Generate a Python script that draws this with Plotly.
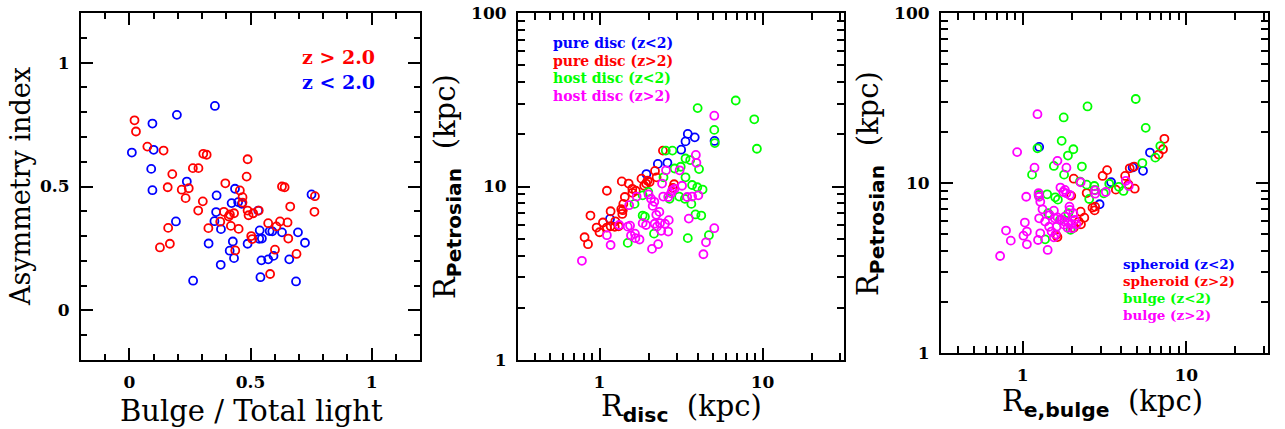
import plotly.graph_objects as go

# ---------------- Panel 1: Asymmetry index vs B/T ----------------
bt_hi = [0.021,0.027,0.074,0.141,0.158,0.177,0.160,0.126,0.167,0.216,0.232,0.245,0.262,0.285,0.305,0.319,0.303,0.284,0.326,0.396,
         0.375,0.390,0.410,0.415,0.432,0.419,0.451,0.437,0.456,0.467,0.467,0.488,0.484,0.488,0.492,0.511,0.534,0.503,0.507,0.573,
         0.607,0.622,0.630,0.641,0.653,0.664,0.656,0.601,0.690,0.581,0.766,0.764]
asym_hi = [0.767,0.722,0.661,0.645,0.497,0.550,0.333,0.254,0.269,0.487,0.453,0.493,0.574,0.574,0.632,0.628,0.440,0.403,0.332,0.513,
           0.358,0.398,0.379,0.387,0.392,0.341,0.329,0.242,0.484,0.457,0.435,0.610,0.540,0.403,0.384,0.392,0.403,0.300,0.288,0.352,
           0.339,0.359,0.500,0.497,0.355,0.419,0.290,0.245,0.228,0.147,0.461,0.398]
bt_lo = [0.010,0.095,0.100,0.090,0.095,0.196,0.192,0.237,0.263,0.353,0.360,0.358,0.351,0.378,0.327,0.377,0.436,0.422,0.449,0.464,
         0.427,0.414,0.432,0.488,0.532,0.538,0.536,0.547,0.545,0.573,0.595,0.541,0.579,0.590,0.630,0.696,0.725,0.660,0.688,0.752]
asym_lo = [0.637,0.754,0.648,0.571,0.485,0.789,0.359,0.520,0.120,0.825,0.464,0.397,0.360,0.328,0.270,0.184,0.491,0.433,0.437,0.430,
           0.278,0.241,0.211,0.269,0.403,0.323,0.289,0.290,0.202,0.206,0.220,0.134,0.320,0.319,0.315,0.315,0.273,0.206,0.117,0.468]

# ---------------- Panel 2: R_Petrosian vs R_disc ----------------
pure_lo_rd = [3.48,3.37,3.84,5.08,3.17,2.61,2.28,1.94,1.16]
pure_lo_rp = [20.1,18.2,19.2,18.3,16.3,13.7,13.5,11.8,6.5]
pure_hi_rd = [2.45,2.19,2.24,1.81,2.03,1.97,1.88,1.93,1.37,1.51,1.59,1.67,1.11,1.43,1.40,1.59,2.87,2.82,1.39,1.36,1.38,1.17,0.88,
              1.05,1.11,1.17,1.25,1.31,1.24,0.96,1.00,0.81,0.85]
pure_hi_rp = [16.1,12.3,11.3,11.1,10.6,10.8,10.1,10.4,10.7,10.4,9.7,9.45,9.45,8.7,7.94,9.2,10.3,9.8,7.3,7.4,6.95,7.2,6.8,
              6.2,5.8,5.9,6.3,5.9,5.85,5.8,5.45,5.1,4.65]
host_lo_rd = [6.85,4.00,8.90,5.06,5.10,9.24,2.55,2.80,3.37,3.60,4.08,2.89,3.15,3.37,2.47,3.70,3.98,4.29,3.08,3.34,3.66,2.69,1.99,
              1.84,1.90,1.84,3.88,4.21,3.48,4.69,1.49,2.16,1.64]
host_lo_rp = [31.3,28.3,24.4,21.2,17.8,16.5,16.1,16.1,14.5,14.2,12.6,12.7,13.0,11.3,11.3,10.2,9.9,9.6,8.75,8.49,7.94,8.5,9.3,
              8.9,6.7,6.8,6.9,6.8,5.04,5.24,4.73,5.35,7.94]
host_hi_rd = [5.06,3.90,3.93,2.56,3.10,2.42,3.21,2.79,2.89,2.75,2.64,2.46,3.70,3.45,4.04,1.69,2.00,2.07,2.17,2.12,2.33,2.23,2.18,
              2.35,2.39,2.66,2.64,2.52,2.25,1.84,1.93,1.52,1.32,1.49,1.54,1.56,1.65,1.66,1.76,3.53,5.06,4.50,4.34,2.10,2.29,
              1.11,1.17,0.78]
host_hi_rp = [25.6,15.2,13.7,12.4,12.4,10.4,10.1,9.5,9.7,9.15,8.7,8.75,8.75,8.7,8.9,8.75,9.0,8.5,8.16,7.73,7.14,6.87,6.1,
              6.15,5.55,6.4,5.5,6.1,5.87,6.15,6.0,7.8,6.0,5.87,5.95,5.22,5.35,5.04,4.95,6.53,5.75,4.77,4.07,4.37,4.65,
              5.24,4.6,3.73]

# ---------------- Panel 3: R_Petrosian vs R_e,bulge ----------------
sph_lo_re = [1.26,6.00,4.70,5.44,3.47,2.95]
sph_lo_rp = [16.3,15.1,12.35,11.8,10.1,7.5]
sph_hi_re = [7.35,7.21,6.78,3.28,3.08,4.51,4.80,4.23,4.84,4.43,3.71,2.05,2.46,1.98,2.67,2.77,2.75,2.26,2.38,2.20,2.27,2.05,1.60,1.63]
sph_hi_rp = [18.2,15.8,14.7,11.9,11.0,12.2,12.5,11.0,9.26,9.8,9.14,10.6,8.73,8.4,7.16,7.26,6.9,6.78,6.25,5.93,5.71,5.45,4.94,4.81]
blg_lo_re = [4.91,2.49,1.78,5.65,1.73,2.04,1.89,1.23,2.30,1.55,1.79,1.14,6.94,6.47,5.39,1.25,1.41,1.58,1.64,2.74,2.75,2.55,3.13,
             3.38,3.87,4.13,1.43,1.90,1.69,1.96,1.37,2.46,2.24]
blg_lo_rp = [31.2,28.2,24.3,21.1,17.7,15.8,14.5,16.0,12.5,12.6,11.2,11.2,16.5,14.1,13.1,8.5,8.58,8.24,7.98,9.6,9.1,8.05,8.7,
             9.9,9.5,8.98,6.64,6.64,6.06,5.31,4.66,9.78,10.2]
blg_hi_re = [1.23,0.924,1.63,1.18,1.85,2.26,1.70,1.81,1.77,1.85,1.94,2.77,2.77,3.22,4.27,4.45,1.05,1.26,1.28,1.32,1.55,1.57,1.46,
             1.26,1.37,1.81,1.93,1.94,1.80,1.90,2.08,2.13,1.99,1.03,1.06,1.01,0.79,0.845,1.06,1.24,1.28,1.42,0.727,1.45,
             1.50,1.61,1.59,1.55,1.72,1.63,2.04,2.01,1.88,1.79,1.25]
blg_hi_rp = [25.4,15.2,13.5,12.3,12.3,10.1,9.4,9.1,8.85,8.69,8.5,9.06,8.65,8.85,10.3,9.6,8.3,8.3,7.76,7.0,6.87,6.2,6.48,
             6.2,5.93,6.34,7.26,6.94,5.93,5.85,6.06,5.71,5.74,5.85,5.18,4.9,5.25,4.58,4.36,4.62,5.06,4.04,3.72,5.53,
             5.18,5.53,4.99,4.79,6.1,6.28,6.64,5.41,5.46,5.69,8.73]

RED, BLUE, GREEN, MAG = "#ff0000", "#0000ff", "#00ff00", "#ff00ff"
W, H = 1285, 429

fig = go.Figure()

def add(x, y, color, xa, ya):
    fig.add_trace(go.Scatter(
        x=x, y=y, mode="markers", xaxis=xa, yaxis=ya, showlegend=False,
        marker=dict(symbol="circle-open", size=8, color=color, line=dict(width=1.8, color=color)),
        hoverinfo="skip"))

add(bt_lo, asym_lo, BLUE, "x", "y")
add(bt_hi, asym_hi, RED, "x", "y")

add(pure_lo_rd, pure_lo_rp, BLUE, "x2", "y2")
add(pure_hi_rd, pure_hi_rp, RED, "x2", "y2")
add(host_lo_rd, host_lo_rp, GREEN, "x2", "y2")
add(host_hi_rd, host_hi_rp, MAG, "x2", "y2")

add(sph_lo_re, sph_lo_rp, BLUE, "x3", "y3")
add(sph_hi_re, sph_hi_rp, RED, "x3", "y3")
add(blg_lo_re, blg_lo_rp, GREEN, "x3", "y3")
add(blg_hi_re, blg_hi_rp, MAG, "x3", "y3")

tickfont = dict(family="DejaVu Serif", size=17, color="black", weight="bold")

def lin_axis(domain, anchor):
    return dict(domain=domain, anchor=anchor, range=[-0.2, 1.2], tickmode="array",
                tickvals=[0, 0.5, 1], ticktext=["0", "0.5", "1"],
                ticks="inside", ticklen=12, tickwidth=2, tickcolor="black",
                minor=dict(tickmode="array", tickvals=[-0.1, 0.1, 0.2, 0.3, 0.4, 0.6, 0.7, 0.8, 0.9, 1.1],
                           ticks="inside", ticklen=6, tickwidth=1.5, tickcolor="black"),
                showline=True, linewidth=2, linecolor="black", mirror="ticks",
                showgrid=False, zeroline=False, tickfont=tickfont, ticklabelstandoff=6,
                automargin=False)

def log_axis(domain, anchor, rng, minors):
    return dict(domain=domain, anchor=anchor, type="log", range=rng, tickmode="array",
                tickvals=[1, 10, 100], ticktext=["1", "10", "100"],
                ticks="inside", ticklen=12, tickwidth=2, tickcolor="black",
                minor=dict(tickmode="array", tickvals=minors,
                           ticks="inside", ticklen=7, tickwidth=1.5, tickcolor="black"),
                showline=True, linewidth=2, linecolor="black", mirror="ticks",
                showgrid=False, zeroline=False, tickfont=tickfont, ticklabelstandoff=6,
                automargin=False)

minor_x = [0.4, 0.5, 0.6, 0.7, 0.8, 0.9, 2, 3, 4, 5, 6, 7, 8, 9, 20, 30]
minor_y = [2, 3, 4, 5, 6, 7, 8, 9, 20, 30, 40, 50, 60, 70, 80, 90]

d1x = [81 / W, 420 / W]
d2x = [518 / W, 844 / W]
d3x = [941 / W, 1268 / W]
dy12 = [1 - 360 / H, 1 - 13 / H]
dy3 = [1 - 353 / H, 1 - 13 / H]

fig.update_layout(
    width=W, height=H, margin=dict(l=0, r=0, t=0, b=0, autoexpand=False),
    paper_bgcolor="white", plot_bgcolor="white",
    xaxis=lin_axis(d1x, "y"), yaxis=lin_axis(dy12, "x"),
    xaxis2=log_axis(d2x, "y2", [-0.5, 1.5], minor_x), yaxis2=log_axis(dy12, "x2", [0, 2], minor_y),
    xaxis3=log_axis(d3x, "y3", [-0.5, 1.5], minor_x), yaxis3=log_axis(dy3, "x3", [0, 2], minor_y),
)

SERIF = "DejaVu Serif"
SUB = '<sub><span style="font-family:DejaVu Sans;font-weight:bold">%s</span></sub>'
NB = "\u00a0"

def ann(text, x, y, size, color="black", angle=0, xanchor="center", family=SERIF, bold=False):
    fig.add_annotation(text=text, x=x / W, y=1 - y / H, xref="paper", yref="paper",
                       showarrow=False, textangle=angle, xanchor=xanchor, yanchor="middle",
                       font=dict(family=family, size=size, color=color, weight="bold" if bold else "normal"))

# axis titles
ann("Bulge" + NB + "/" + NB + "Total" + NB + "light", 251, 411, 29)
ann("Asymmetry" + NB + "index", 20, 187, 27, angle=-90)
ann("R" + SUB % "disc" + NB + NB + "(kpc)", 681, 408, 29)
ann("R" + SUB % "Petrosian" + NB + NB + "(kpc)", 447, 187, 29, angle=-90)
ann("R" + SUB % "e,bulge" + NB + NB + "(kpc)", 1102, 403, 29)
ann("R" + SUB % "Petrosian" + NB + NB + "(kpc)", 870, 184, 29, angle=-90)

# in-plot legends
LEG = "DejaVu Serif"
ann("z" + NB + ">" + NB + "2.0", 300, 57, 19, RED, xanchor="left", family=LEG, bold=True)
ann("z" + NB + "<" + NB + "2.0", 300, 82, 19, BLUE, xanchor="left", family=LEG, bold=True)

for i, (t, c) in enumerate([("pure disc (z<2)", BLUE), ("pure disc (z>2)", RED),
                            ("host disc (z<2)", GREEN), ("host disc (z>2)", MAG)]):
    ann(t.replace(" ", NB), 551, 43 + i * 17.6, 14, c, xanchor="left", family=LEG, bold=True)

for i, (t, c) in enumerate([("spheroid (z<2)", BLUE), ("spheroid (z>2)", RED),
                            ("bulge (z<2)", GREEN), ("bulge (z>2)", MAG)]):
    ann(t.replace(" ", NB), 1121, 264 + i * 17, 13.5, c, xanchor="left", family=LEG, bold=True)

fig.write_html("out.html", config={"displayModeBar": False},
               post_script="document.body.style.margin='0';document.body.style.overflow='hidden';")
